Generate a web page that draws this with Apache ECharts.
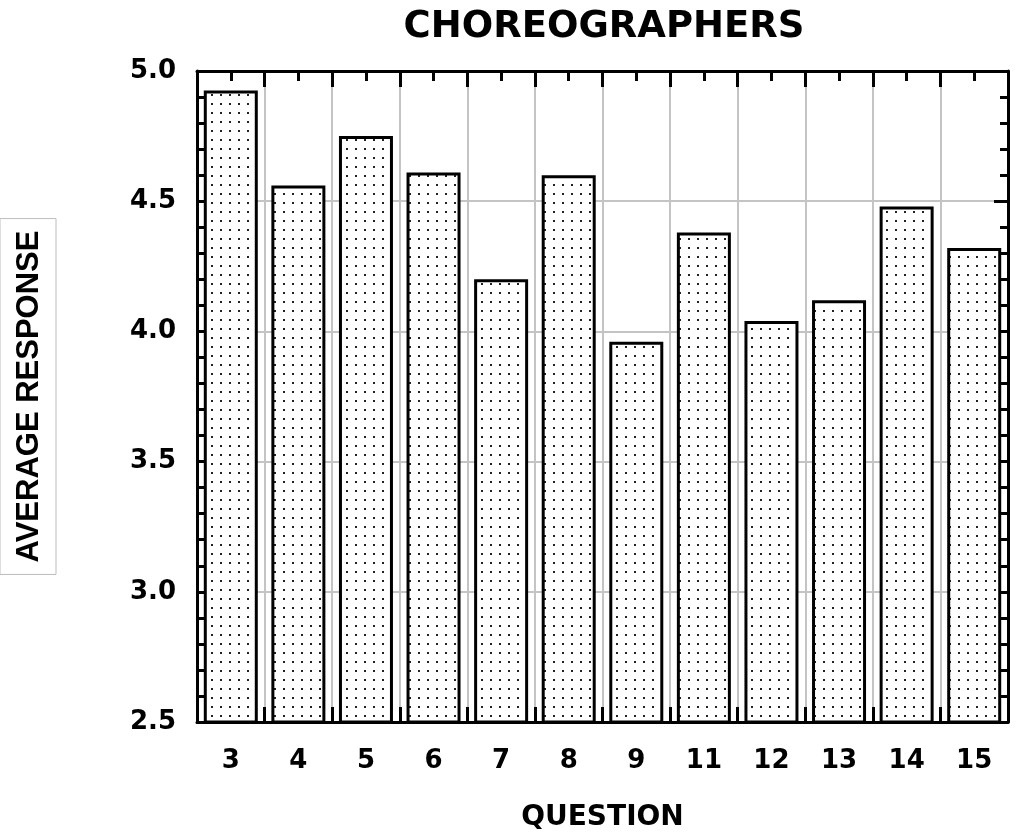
<!DOCTYPE html>
<html>
<head>
<meta charset="utf-8">
<script src="https://cdn.jsdelivr.net/npm/echarts@6/dist/echarts.min.js"></script>
<style>
html,body{margin:0;padding:0;background:#fff;}
#chart{width:1016px;height:832px;}
</style>
</head>
<body>
<div id="chart"></div>
<script>
const categories = ['3','4','5','6','7','8','9','11','12','13','14','15'];
const averageResponse = [4.925, 4.56, 4.75, 4.61, 4.20, 4.60, 3.96, 4.38, 4.04, 4.12, 4.48, 4.32];
const titleText = 'CHOREOGRAPHERS';
const xName = 'QUESTION';
const yName = 'AVERAGE RESPONSE';

// dotted fill pattern
const pat = document.createElement('canvas');
pat.width = 9; pat.height = 9;
const pc = pat.getContext('2d');
pc.fillStyle = '#ffffff'; pc.fillRect(0,0,9,9);
pc.fillStyle = '#222222'; pc.fillRect(4,4,2,2);

const chart = echarts.init(document.getElementById('chart'), null, {renderer:'canvas'});
const gridColor = '#c4c4c4';
const tickStyle = {color:'#000', width:3};
const labelFont = {fontFamily:'DejaVu Sans', fontWeight:'bold', color:'#000'};

chart.setOption({
  animation:false,
  backgroundColor:'#fff',
  title:{
    text:titleText, left:604, top:9, textAlign:'center', padding:0,
    textStyle:{fontFamily:'DejaVu Sans', fontWeight:'bold', fontSize:37, color:'#000'}
  },
  grid:{left:197, right:8, top:71, bottom:110, containLabel:false, outerBoundsMode:'none'},
  xAxis:[
    {type:'category', data:categories, position:'bottom', boundaryGap:true,
     name:xName, nameLocation:'middle', nameGap:82,
     nameTextStyle:Object.assign({fontSize:28}, labelFont),
     axisLine:{show:true, lineStyle:{color:'#000', width:3}},
     axisTick:{show:true, inside:true, length:15, lineStyle:tickStyle},
     axisLabel:Object.assign({fontSize:26, margin:26}, labelFont),
     splitLine:{show:true, lineStyle:{color:gridColor, width:2}}},
    {type:'category', data:categories, position:'bottom', boundaryGap:true,
     axisLine:{show:false},
     axisTick:{show:true, inside:true, alignWithLabel:true, length:9, lineStyle:tickStyle},
     axisLabel:{show:false}, splitLine:{show:false}},
    {type:'category', data:categories, position:'top', boundaryGap:true,
     axisLine:{show:true, lineStyle:{color:'#000', width:3}},
     axisTick:{show:true, inside:true, length:16, lineStyle:tickStyle},
     axisLabel:{show:false}, splitLine:{show:false}},
    {type:'category', data:categories, position:'top', boundaryGap:true,
     axisLine:{show:false},
     axisTick:{show:true, inside:true, alignWithLabel:true, length:10, lineStyle:tickStyle},
     axisLabel:{show:false}, splitLine:{show:false}}
  ],
  yAxis:[
    {type:'value', min:2.5, max:5.0, interval:0.5, position:'left',
     name:yName, nameLocation:'middle', nameRotate:90, nameGap:141,
     nameTextStyle:{fontFamily:'Liberation Sans', fontWeight:'bold', fontSize:31, color:'#000',
       borderColor:'#bdbdbd', borderWidth:1, padding:[12,12,10,12], lineHeight:34},
     axisLine:{show:true, lineStyle:{color:'#000', width:3}},
     axisTick:{show:true, inside:true, length:14, lineStyle:tickStyle},
     minorTick:{show:true, splitNumber:5, length:8, lineStyle:tickStyle},
     axisLabel:Object.assign({fontSize:26, margin:21, formatter:v=>v.toFixed(1)}, labelFont),
     splitLine:{show:true, lineStyle:{color:gridColor, width:2}}},
    {type:'value', min:2.5, max:5.0, interval:0.5, position:'right',
     axisLine:{show:true, lineStyle:{color:'#000', width:3}},
     axisTick:{show:true, inside:true, length:14, lineStyle:tickStyle},
     minorTick:{show:true, splitNumber:5, length:8, lineStyle:tickStyle},
     axisLabel:{show:false}, splitLine:{show:false}}
  ],
  series:[{
    type:'bar', xAxisIndex:0, yAxisIndex:0, data:averageResponse,
    barWidth:54,
    itemStyle:{color:{image:pat, repeat:'repeat'}, borderColor:'#000', borderWidth:3}
  }]
});
</script>
</body>
</html>
